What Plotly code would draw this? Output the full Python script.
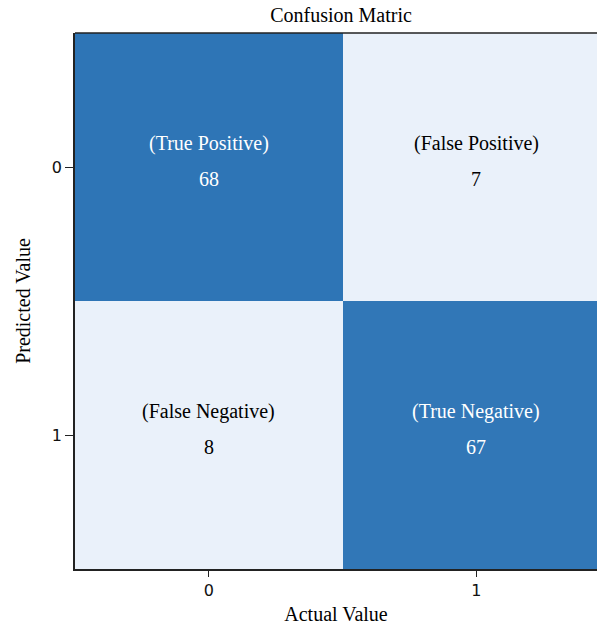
import plotly.graph_objects as go

actual = [0, 1]
predicted = [0, 1]
counts = [[68, 7], [8, 67]]
labels = [["(True Positive)", "(False Positive)"], ["(False Negative)", "(True Negative)"]]
tick_labels = ["0", "1"]

serif = "Liberation Serif, Times New Roman, serif"
sans = "DejaVu Sans, sans-serif"

fig = go.Figure(go.Heatmap(
    x=actual, y=predicted, z=counts,
    colorscale=[[0, "#EAF1FA"], [0.05, "#EAF1FA"], [1, "#2E75B6"]],
    zmin=7, zmax=68, showscale=False, xgap=0, ygap=0, hoverinfo="skip"))

for i, yv in enumerate(predicted):
    for j, xv in enumerate(actual):
        col = "white" if counts[i][j] > 40 else "black"
        fig.add_annotation(x=xv, y=yv, text=labels[i][j], showarrow=False,
                           yshift=24, font=dict(family=serif, size=20, color=col))
        fig.add_annotation(x=xv, y=yv, text=str(counts[i][j]), showarrow=False,
                           yshift=-12, font=dict(family=serif, size=20, color=col))

fig.add_shape(type="line", xref="paper", yref="paper", x0=0, x1=1, y0=1, y1=1,
              line=dict(color="#222", width=1.5))

fig.update_layout(
    width=597, height=625,
    margin=dict(l=75, r=0, t=33, b=56),
    paper_bgcolor="white", plot_bgcolor="white",
    title=dict(text="Confusion Matric", x=341 / 597, xanchor="center", y=1 - 15 / 625,
               yanchor="middle", font=dict(family=serif, size=20, color="black")),
    xaxis=dict(range=[-0.5, 1.451], tickvals=actual, ticktext=tick_labels,
               showline=True, linecolor="#222", linewidth=1.5, ticks="outside",
               ticklen=6, tickcolor="#222", showgrid=False, zeroline=False,
               tickfont=dict(family=sans, size=16, color="#111"),
               title=dict(text="Actual Value", font=dict(family=serif, size=20, color="black"), standoff=8)),
    yaxis=dict(range=[1.5, -0.5], tickvals=predicted, ticktext=tick_labels,
               showline=True, linecolor="#222", linewidth=1.5, ticks="outside",
               ticklen=8, tickcolor="#222", showgrid=False, zeroline=False,
               tickfont=dict(family=sans, size=16, color="#111"),
               title=dict(text="Predicted Value", font=dict(family=serif, size=20, color="black"), standoff=16)),
)

fig.write_html("out.html", config={"displayModeBar": False},
               post_script="document.body.style.margin='0';")
